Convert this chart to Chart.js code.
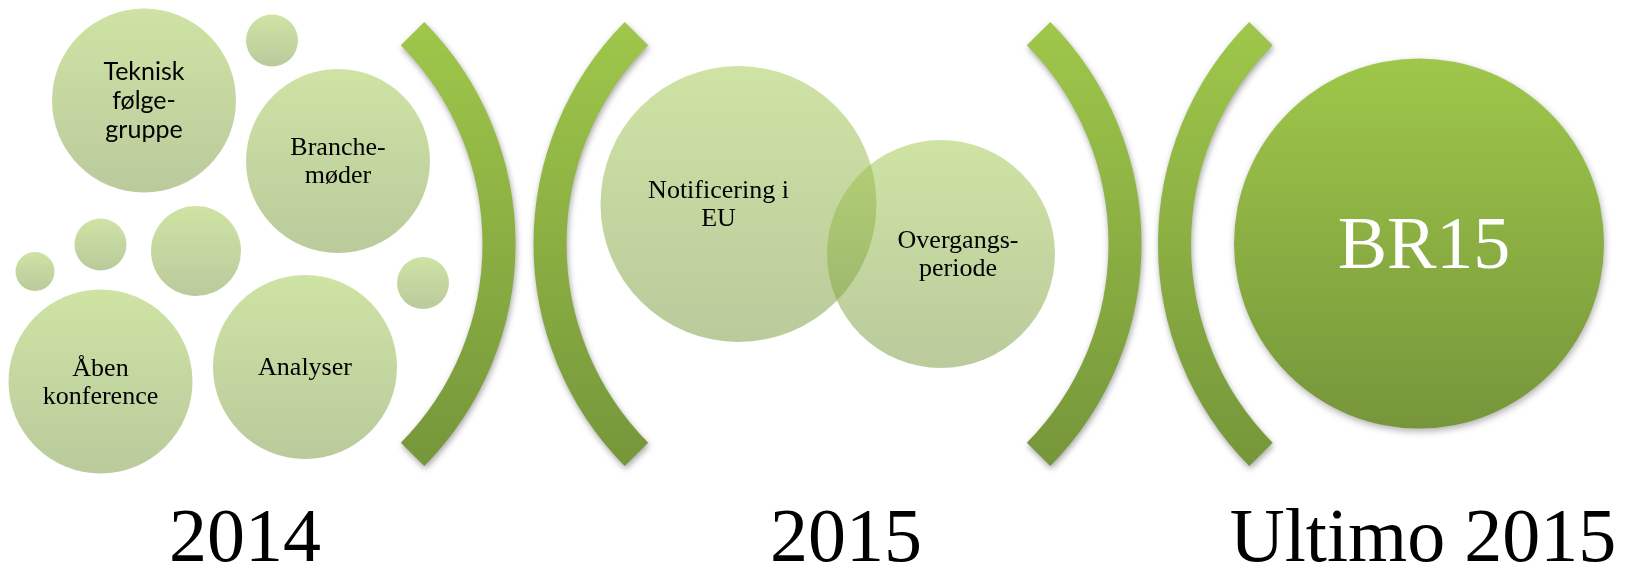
<!DOCTYPE html>
<html>
<head>
<meta charset="utf-8">
<script src="https://cdn.jsdelivr.net/npm/chart.js@4.4.1/dist/chart.umd.min.js"></script>
<style>
  html, body { margin: 0; padding: 0; background: #fff; overflow: hidden; }
  canvas { display: block; }
</style>
</head>
<body>
<canvas id="myChart" width="1634" height="567"></canvas>
<script>
// light circles: left cluster (2014) and the overlapping pair (2015)
const circleX = [144, 272, 338, 35, 100.5, 196, 423, 100.5, 305, 738.5, 941]
const circleY = [100.5, 40.5, 161, 271.5, 244.5, 251, 283, 381.5, 367, 204, 254]
const circleR = [92, 26, 92, 19.5, 26, 45, 26, 92, 92, 138, 114]
const circleText = [
    ['Teknisk', 'følge-', 'gruppe'], [], ['Branche-', 'møder'], [], [], [], [],
    ['Åben', 'konference'], ['Analyser'], ['Notificering i', 'EU'], ['Overgangs-', 'periode']
]

// the big dark circle
const goalX = [1419]
const goalY = [243.5]
const goalR = [185]
const goalText = ['BR15']

// bracket arcs, centre of each arc's circle
const bracketX = [200, 849, 826, 1473.5]
const bracketY = [244, 244, 244, 244]
const bracketSide = ['right', 'left', 'right', 'left']

const yearLabels = ['2014', '2015', 'Ultimo 2015']
const yearX = [245, 846, 1423]
const yearY = [561, 561, 561]

const toPoints = (xs, ys, rs) => xs.map((v, i) => ({x: v, y: ys[i], r: rs[i]}))

const greenFill = (alpha) => (c) => {
    const flat = `rgba(140, 176, 66, ${alpha})`
    if (c.type !== 'data' || !c.raw) return flat
    const {ctx, scales} = c.chart
    const cy = scales.y.getPixelForValue(c.raw.y)
    if (!isFinite(cy)) return flat
    const g = ctx.createLinearGradient(0, cy - c.raw.r, 0, cy + c.raw.r)
    g.addColorStop(0, `rgba(159, 199, 74, ${alpha})`)
    g.addColorStop(1, `rgba(118, 150, 58, ${alpha})`)
    return g
}

const bracketPlugin = {
    id: 'brackets',
    beforeDatasetsDraw(chart) {
        const {ctx, scales: {x, y}} = chart
        const Arc = (Chart.elements && Chart.elements.ArcElement) || Chart.ArcElement
        const grad = ctx.createLinearGradient(0, y.getPixelForValue(22), 0, y.getPixelForValue(466))
        grad.addColorStop(0, '#9fc74a')
        grad.addColorStop(1, '#76963a')
        ctx.save()
        ctx.shadowColor = 'rgba(0, 0, 0, 0.35)'
        ctx.shadowBlur = 6
        ctx.shadowOffsetX = 1
        ctx.shadowOffsetY = 3
        bracketX.forEach((bx, i) => {
            const mid = bracketSide[i] === 'right' ? 0 : Math.PI
            const arc = new Arc({
                x: x.getPixelForValue(bx),
                y: y.getPixelForValue(bracketY[i]),
                startAngle: mid - 0.78,
                endAngle: mid + 0.78,
                circumference: 1.56,
                innerRadius: 282.5,
                outerRadius: 315.5,
                options: {backgroundColor: grad, borderWidth: 0, offset: 0, spacing: 0, circular: true, borderRadius: 0}
            })
            arc.draw(ctx)
        })
        ctx.restore()
    },
    beforeDatasetDraw(chart, args) {
        const ctx = chart.ctx
        ctx.save()
        if (args.index === 1) {
            ctx.shadowColor = 'rgba(0, 0, 0, 0.3)'
            ctx.shadowBlur = 7
            ctx.shadowOffsetX = 1
            ctx.shadowOffsetY = 3
        }
    },
    afterDatasetDraw(chart) {
        chart.ctx.restore()
    }
}

// nudges for text boxes that sit off-centre in the overlapping pair
const textShift = {9: -20, 10: 17}

const textPlugin = {
    id: 'circleText',
    afterDatasetsDraw(chart) {
        const {ctx, scales: {x, y}} = chart
        ctx.save()
        ctx.textAlign = 'center'
        ctx.textBaseline = 'alphabetic'
        ctx.fillStyle = '#000'
        chart.getDatasetMeta(0).data.forEach((pt, i) => {
            const lines = circleText[i]
            const sans = i === 0
            ctx.font = sans ? '25px Lato' : '26px "Liberation Serif"'
            const lh = sans ? 29 : 28
            const dx = textShift[i] || 0
            lines.forEach((t, k) => {
                ctx.fillText(t, pt.x + dx, pt.y + (k - (lines.length - 1) / 2) * lh + 8)
            })
        })
        ctx.fillStyle = '#fff'
        ctx.font = '74px "Liberation Serif"'
        chart.getDatasetMeta(1).data.forEach((pt, i) => {
            ctx.fillText(goalText[i], pt.x + 5, pt.y + 24)
        })
        ctx.fillStyle = '#000'
        ctx.font = '76px "Liberation Serif"'
        yearLabels.forEach((t, i) => {
            ctx.fillText(t, x.getPixelForValue(yearX[i]), y.getPixelForValue(yearY[i]))
        })
        ctx.restore()
    }
}

const myChart = document.querySelector('#myChart')
const chart = new Chart(myChart.getContext('2d'), {
    type: 'bubble',
    data: {
        datasets: [{
            label: 'aktiviteter',
            data: toPoints(circleX, circleY, circleR),
            backgroundColor: greenFill(0.5),
            borderWidth: 0,
            clip: false
        }, {
            label: 'BR15',
            data: toPoints(goalX, goalY, goalR),
            backgroundColor: greenFill(1),
            borderWidth: 0,
            clip: false
        }]
    },
    options: {
        responsive: false,
        animation: false,
        events: [],
        layout: { padding: 0, autoPadding: false },
        plugins: {
            legend: { display: false },
            tooltip: { enabled: false }
        },
        scales: {
            x: { type: 'linear', min: 0, max: 1634, display: false },
            y: { type: 'linear', min: 0, max: 567, reverse: true, display: false }
        }
    },
    plugins: [bracketPlugin, textPlugin]
})
</script>
</body>
</html>
